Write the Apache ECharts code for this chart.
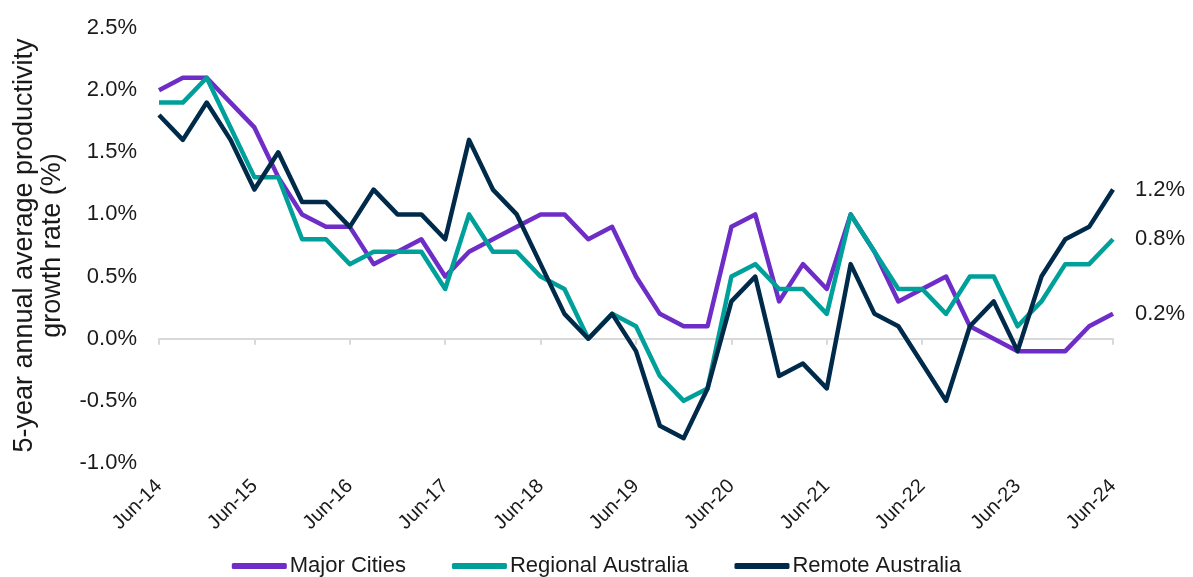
<!DOCTYPE html>
<html>
<head>
<meta charset="utf-8">
<script src="https://cdn.jsdelivr.net/npm/echarts@6/dist/echarts.min.js"></script>
<style>html,body{margin:0;padding:0;background:#fff}#c{width:1193px;height:577px}</style>
</head>
<body>
<div id="c"></div>
<script>
const categories = ['Jun-14','Sep-14','Dec-14','Mar-15','Jun-15','Sep-15','Dec-15','Mar-16','Jun-16','Sep-16','Dec-16','Mar-17','Jun-17','Sep-17','Dec-17','Mar-18','Jun-18','Sep-18','Dec-18','Mar-19','Jun-19','Sep-19','Dec-19','Mar-20','Jun-20','Sep-20','Dec-20','Mar-21','Jun-21','Sep-21','Dec-21','Mar-22','Jun-22','Sep-22','Dec-22','Mar-23','Jun-23','Sep-23','Dec-23','Mar-24','Jun-24'];
const majorCities = [2.0,2.1,2.1,1.9,1.7,1.3,1.0,0.9,0.9,0.6,0.7,0.8,0.5,0.7,0.8,0.9,1.0,1.0,0.8,0.9,0.5,0.2,0.1,0.1,0.9,1.0,0.3,0.6,0.4,1.0,0.7,0.3,0.4,0.5,0.1,0.0,-0.1,-0.1,-0.1,0.1,0.2];
const regionalAustralia = [1.9,1.9,2.1,1.7,1.3,1.3,0.8,0.8,0.6,0.7,0.7,0.7,0.4,1.0,0.7,0.7,0.5,0.4,0.0,0.2,0.1,-0.3,-0.5,-0.4,0.5,0.6,0.4,0.4,0.2,1.0,0.7,0.4,0.4,0.2,0.5,0.5,0.1,0.3,0.6,0.6,0.8];
const remoteAustralia = [1.8,1.6,1.9,1.6,1.2,1.5,1.1,1.1,0.9,1.2,1.0,1.0,0.8,1.6,1.2,1.0,0.6,0.2,0.0,0.2,-0.1,-0.7,-0.8,-0.4,0.3,0.5,-0.3,-0.2,-0.4,0.6,0.2,0.1,-0.2,-0.5,0.1,0.3,-0.1,0.5,0.8,0.9,1.2];
const seriesNames = ['Major Cities','Regional Australia','Remote Australia'];
const colors = ['#6f2dc8','#00a09a','#002a4a'];

const font = 'Liberation Sans, Arial, sans-serif';
const chart = echarts.init(document.getElementById('c'));
const mk = (name, data, color) => ({
  name, type: 'line', data, xAxisIndex: 0, yAxisIndex: 0,
  symbol: 'none', smooth: false,
  lineStyle: { color, width: 4.5, join: 'round' },
  itemStyle: { color },
  endLabel: {
    show: true, distance: 22, color: '#1a1a1a', fontSize: 22, fontFamily: font,
    formatter: p => p.value.toFixed(1) + '%'
  }
});
chart.setOption({
  animation: false,
  backgroundColor: '#fff',
  color: colors,
  grid: { left: 159, right: 80, top: 28, bottom: 114, containLabel: false },
  legend: {
    top: 550, left: 'center',
    icon: 'roundRect', itemWidth: 55, itemHeight: 6, itemGap: 46,
    textStyle: { fontSize: 22, color: '#1a1a1a', fontFamily: font, padding: [0,0,0,-2] },
    data: seriesNames
  },
  xAxis: [
    {
      type: 'category', data: categories, boundaryGap: false, position: 'bottom',
      axisLine: { onZero: true, lineStyle: { color: '#d9d9d9', width: 2 } },
      axisTick: { show: true, interval: 3, length: 6, lineStyle: { color: '#d9d9d9', width: 2 } },
      axisLabel: { show: false },
      splitLine: { show: false }
    },
    {
      type: 'category', data: categories, boundaryGap: false, position: 'bottom',
      axisLine: { show: false, onZero: false },
      axisTick: { show: false },
      axisLabel: { show: true, interval: 3, rotate: 45, margin: 20, fontSize: 20, color: '#1a1a1a', fontFamily: font },
      splitLine: { show: false }
    }
  ],
  yAxis: {
    type: 'value', min: -1, max: 2.5, interval: 0.5,
    name: '5-year annual average productivity\ngrowth rate (%)',
    nameLocation: 'middle', nameRotate: 90, nameGap: 92,
    nameTextStyle: { fontSize: 27, color: '#1a1a1a', fontFamily: font, lineHeight: 28 },
    axisLine: { show: false }, axisTick: { show: false }, splitLine: { show: false },
    axisLabel: { fontSize: 22, color: '#1a1a1a', fontFamily: font, margin: 22,
      formatter: v => v.toFixed(1) + '%' }
  },
  series: [
    mk(seriesNames[0], majorCities, colors[0]),
    mk(seriesNames[1], regionalAustralia, colors[1]),
    mk(seriesNames[2], remoteAustralia, colors[2])
  ]
});
</script>
</body>
</html>
